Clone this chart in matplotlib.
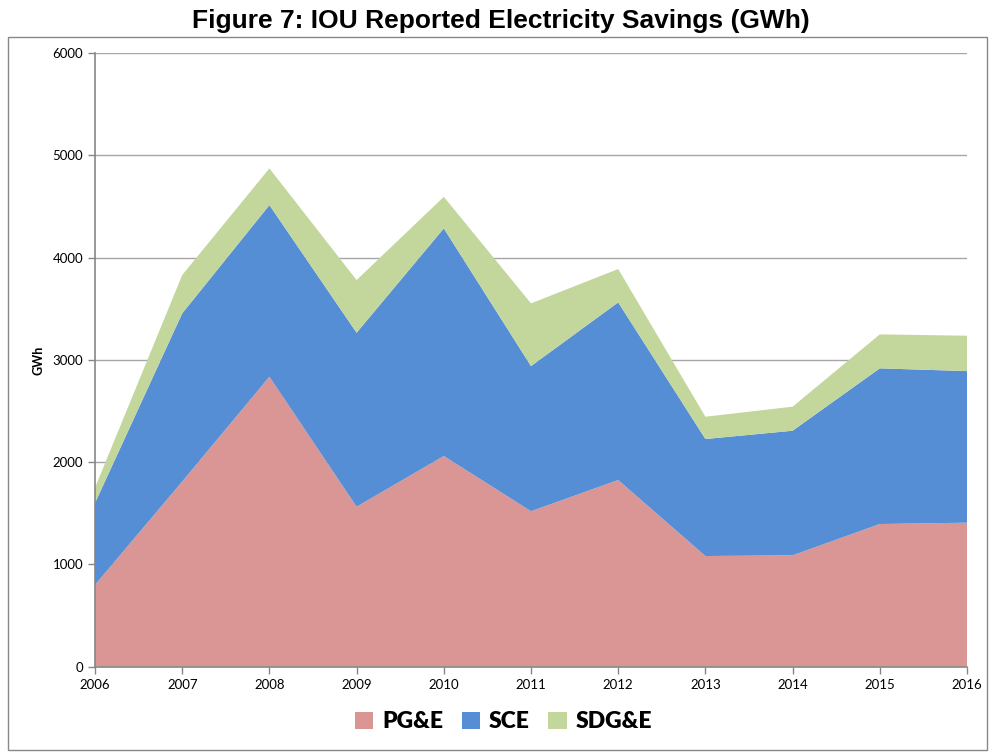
import matplotlib.pyplot as plt
from matplotlib.patches import Rectangle

# values (GWh)
years = [2006, 2007, 2008, 2009, 2010, 2011, 2012, 2013, 2014, 2015, 2016]
pge = [800, 1810, 2835, 1564, 2060, 1520, 1825, 1082, 1089, 1395, 1408]
sce = [800, 1644, 1678, 1701, 2225, 1419, 1737, 1144, 1218, 1522, 1482]
sdge = [150, 375, 359, 515, 309, 613, 326, 218, 235, 332, 346]
names = ['PG&E', 'SCE', 'SDG&E']
colors = ['#D99694', '#558ED5', '#C3D69B']

fig = plt.figure(figsize=(9.97, 7.55), dpi=100)
ax = fig.add_axes([95 / 997, 1 - 666.7 / 755, 872 / 997, (666.7 - 53) / 755])

ax.stackplot(years, pge, sce, sdge, colors=colors, labels=names, linewidth=0)

ax.set_xlim(2006, 2016)
ax.set_ylim(0, 6000)
ax.set_xticks(years)
ax.set_yticks(range(0, 6001, 1000))
ax.grid(axis='y', color='#A6A6A6', linewidth=1)
ax.set_axisbelow(True)
for s in ['top', 'right']:
    ax.spines[s].set_visible(False)
for s in ['left', 'bottom']:
    ax.spines[s].set_color('#868686')
    ax.spines[s].set_linewidth(1.2)
ax.tick_params(colors='#868686', labelcolor='black', length=5, width=1,
               labelsize=9.5)
for lab in ax.get_xticklabels() + ax.get_yticklabels():
    lab.set_fontfamily('Lato')
ax.set_ylabel('GWh', fontsize=9, fontweight='bold', fontfamily='Lato', labelpad=6)

# outer chart frame
fig.patches.append(Rectangle((8 / 997, 1 - 750 / 755), 979 / 997, 713 / 755,
                             transform=fig.transFigure, fill=False,
                             edgecolor='#888888', linewidth=1))

fig.text(0.502, 1 - 21 / 755, 'Figure 7: IOU Reported Electricity Savings (GWh)',
         ha='center', va='center', fontsize=19, fontweight='bold',
         fontfamily=['Liberation Sans', 'Arial'])

fig.legend(loc='center', bbox_to_anchor=(0.505, 1 - 722 / 755), ncol=3,
           frameon=False, handlelength=0.8, handleheight=0.8, handletextpad=0.4,
           columnspacing=0.8, prop={'family': 'Lato', 'weight': 'heavy', 'size': 16.5})

fig.savefig('out.png', dpi=100)
